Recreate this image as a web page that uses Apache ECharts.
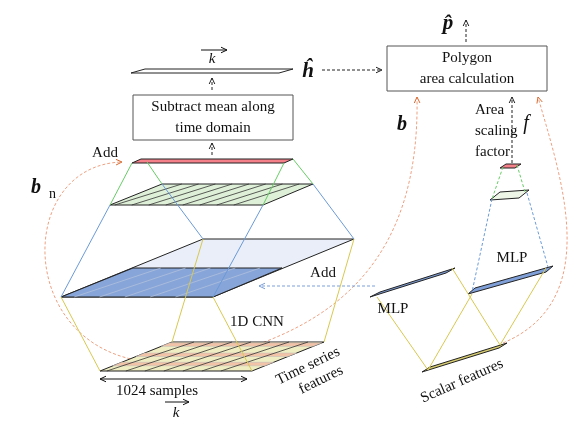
<!DOCTYPE html>
<html>
<head>
<meta charset="utf-8" />
<script src="https://cdn.jsdelivr.net/npm/echarts@6/dist/echarts.min.js"></script>
<style>
  html, body { margin: 0; padding: 0; background: #fff; }
  #main { width: 582px; height: 424px; }
</style>
</head>
<body>
<div id="main"></div>
<script>
// planes (corner points in picture units)
var planePts = [
  [[131,73],[145,69],[293,69],[279,73]],
  [[132,163],[141,159],[293,159],[284,163]],
  [[110,205],[162,184],[313,184],[263,205]],
  [[61,297],[203,239],[354,239],[213,297]],
  [[61,297],[133,268],[282,268],[213,297]],
  [[100,371],[172,342],[324,342],[252,371]],
  [[500,168],[506,164],[521,164],[515,168]],
  [[490,200],[500,192],[529,190],[519,198]],
  [[468,294],[475,288],[553,266],[546,272]],
  [[370,297],[380,292],[455,268],[446,273]],
  [[422,372],[430,367],[507,343],[499,348]]
];
var planeFill = ['#ffffff','#f4808a','#dff0d8','#e9eef8','#87a5d8','#efedc2','#f4808a','#eef6e8','#7f9fd8','#7f9fd8','#d8cc70'];
var planeHatch = [0,0,9,0,6,8,0,0,0,0,0];

// connector lines
var linkPts = [
  [[132,163],[110,205]],[[147,162],[162,184]],[[284,163],[263,205]],[[293,159],[313,184]],
  [[110,205],[61,297]],[[162,184],[203,239]],[[263,205],[213,297]],[[313,184],[354,239]],
  [[61,297],[100,371]],[[203,239],[172,342]],[[213,297],[252,371]],[[354,239],[324,342]],
  [[503,167],[492,199]],[[517,165],[525,192]],
  [[492,199],[472,292]],[[527,193],[548,267]],
  [[377,297],[428,370]],[[452,268],[500,345]],[[472,294],[428,370]],[[546,268],[500,345]]
];
var linkColor = ['#66cc66','#66cc66','#66cc66','#66cc66','#6a9ad8','#6a9ad8','#6a9ad8','#6a9ad8',
  '#d8c850','#d8c850','#d8c850','#d8c850','#66cc66','#66cc66','#6a9ad8','#6a9ad8',
  '#d8c850','#d8c850','#d8c850','#d8c850'];
var linkDash = [0,0,0,0,0,0,0,0,0,0,0,0,1,1,1,1,0,0,0,0];

// skip-connection curves
var curvePts = [
  [[150,362],[15,350],[15,165],[122,162]],
  [[235,352],[335,322],[420,260],[417,97]],
  [[503,343],[605,300],[560,175],[538,97]]
];

// arrows: from, to, colour, dashed, double
var arrowPts = [
  [[212,90],[212,78]],[[212,155],[212,143]],[[322,70],[382,70]],[[466,42],[466,20]],
  [[512,163],[512,97]],[[375,286],[259,286]],[[100,379],[247,379]],[[201,50],[227,50]],[[165,402],[189,402]]
];
var arrowColor = ['#222','#222','#222','#222','#222','#7a9fd8','#111','#111','#111'];
var arrowDash = [1,1,1,1,1,1,0,0,0];
var arrowBoth = [0,0,0,0,0,0,1,0,0];

// boxes: x, y, w, h
var boxRects = [[133,95,160,45],[387,46,160,45]];

// labels
var labelText = ['Subtract mean along','time domain','Polygon','area calculation','k','k','Add','Add',
  'b','n','ĥ','p̂','b','Area','scaling','factor','f','1D CNN','1024 samples','MLP','MLP',
  'Time series','features','Scalar features'];
var labelPos = [[213,107],[213,128],[467,58],[467,79],[212,59],[176,413],[105,153],[323,273],
  [36,188],[49,194],[308,72],[448,24],[402,125],[475,110],[475,131],[475,152],[526,124],[257,322],[157,391],
  [393,309],[512,258],[308,366],[321,380],[462,381]];
var labelSize = [15,15,15,15,15,15,15,15,20,14,21,21,20,15,15,15,20,15,15,15,15,15,15,15];
var labelStyle = ['n','n','n','n','i','i','n','n','bi','n','bi','bi','bi','n','n','n','i','n','n','n','n','n','n','n'];
var labelAlign = ['c','c','c','c','c','c','c','c','c','l','c','c','c','l','l','l','c','c','c','c','c','c','c','c'];
var labelRot = [0,0,0,0,0,0,0,0,0,0,0,0,0,0,0,0,0,0,0,0,0,26,26,24];

function lerp(a, b, t) { return [a[0] + (b[0] - a[0]) * t, a[1] + (b[1] - a[1]) * t]; }

function renderAll(params, api) {
  var c = function (p) { return api.coord(p); };
  var kids = [];
  // curves first (behind)
  curvePts.forEach(function (q) {
    var a = c(q[0]), b = c(q[1]), d = c(q[2]), e = c(q[3]);
    kids.push({ type: 'bezierCurve', shape: { x1: a[0], y1: a[1], cpx1: b[0], cpy1: b[1], cpx2: d[0], cpy2: d[1], x2: e[0], y2: e[1] },
      style: { stroke: '#eea080', lineWidth: 1, lineDash: [3, 2], fill: null } });
    var tip = e, from = c(lerp(q[2], q[3], 0.85));
    kids.push(head(from, tip, '#d86a30'));
  });
  // planes
  planePts.forEach(function (q, i) {
    var pts = q.map(c);
    kids.push({ type: 'polygon', shape: { points: pts }, style: { fill: planeFill[i], stroke: '#222', lineWidth: 1 } });
    if (i === 5) {
      [[0.18, 0.3], [0.5, 0.62], [0.85, 0.97]].forEach(function (s) {
        kids.push({ type: 'polygon', shape: { points: [
          c(lerp(q[0], q[1], s[0])), c(lerp(q[0], q[1], s[1])), c(lerp(q[3], q[2], s[1])), c(lerp(q[3], q[2], s[0]))
        ] }, style: { fill: '#f3c3a8', stroke: '#bbb', lineWidth: 0.5 } });
      });
    }
    var n = planeHatch[i];
    for (var k = 1; k < n; k++) {
      var t = k / n;
      var a = c(lerp(q[0], q[3], t - 0.08)), b = c(lerp(q[1], q[2], t + 0.02));
      if (t - 0.08 < 0) continue;
      kids.push({ type: 'line', shape: { x1: a[0], y1: a[1], x2: b[0], y2: b[1] },
        style: { stroke: i === 4 ? '#b8c4dc' : '#333', lineWidth: i === 4 ? 0.7 : 0.8 } });
    }
  });
  // links
  linkPts.forEach(function (q, i) {
    var a = c(q[0]), b = c(q[1]);
    kids.push({ type: 'line', shape: { x1: a[0], y1: a[1], x2: b[0], y2: b[1] },
      style: { stroke: linkColor[i], lineWidth: 1, lineDash: linkDash[i] ? [3, 2] : null } });
  });
  // boxes
  boxRects.forEach(function (r) {
    var a = c([r[0], r[1]]), b = c([r[0] + r[2], r[1] + r[3]]);
    kids.push({ type: 'rect', shape: { x: a[0], y: a[1], width: b[0] - a[0], height: b[1] - a[1] },
      style: { fill: '#fff', stroke: '#555', lineWidth: 1 } });
  });
  // arrows
  arrowPts.forEach(function (q, i) {
    var a = c(q[0]), b = c(q[1]);
    kids.push({ type: 'line', shape: { x1: a[0], y1: a[1], x2: b[0], y2: b[1] },
      style: { stroke: arrowColor[i], lineWidth: 1, lineDash: arrowDash[i] ? [3, 2] : null } });
    kids.push(head(a, b, arrowColor[i]));
    if (arrowBoth[i]) kids.push(head(b, a, arrowColor[i]));
  });
  // labels
  labelText.forEach(function (s, i) {
    var p = c(labelPos[i]);
    var st = labelStyle[i];
    kids.push({ type: 'text', x: p[0], y: p[1], rotation: labelRot[i] * Math.PI / 180,
      style: { text: s, fill: '#111',
        font: (st.indexOf('i') >= 0 ? 'italic ' : '') + (st.indexOf('b') >= 0 ? 'bold ' : '') + labelSize[i] + 'px "Liberation Serif", serif',
        align: labelAlign[i] === 'l' ? 'left' : 'center', verticalAlign: 'middle' } });
  });
  return { type: 'group', children: kids };
}

function head(from, tip, color) {
  var ang = Math.atan2(tip[1] - from[1], tip[0] - from[0]);
  var L = 6, W = 2.8;
  var bx = tip[0] - L * Math.cos(ang), by = tip[1] - L * Math.sin(ang);
  var nx = -Math.sin(ang) * W, ny = Math.cos(ang) * W;
  return { type: 'polyline', shape: { points: [[bx + nx, by + ny], tip, [bx - nx, by - ny]] },
    style: { stroke: color, lineWidth: 1, fill: null } };
}

var myChart = echarts.init(document.getElementById('main'));
var option = {
  animation: false,
  grid: { left: 0, right: 0, top: 0, bottom: 0 },
  xAxis: { type: 'value', min: 0, max: 582, show: false },
  yAxis: { type: 'value', min: 0, max: 424, inverse: true, show: false },
  series: [{
    type: 'custom',
    coordinateSystem: 'cartesian2d',
    renderItem: renderAll,
    data: [[0, 0]],
    clip: false,
    silent: true
  }]
};
myChart.setOption(option);
</script>
</body>
</html>
